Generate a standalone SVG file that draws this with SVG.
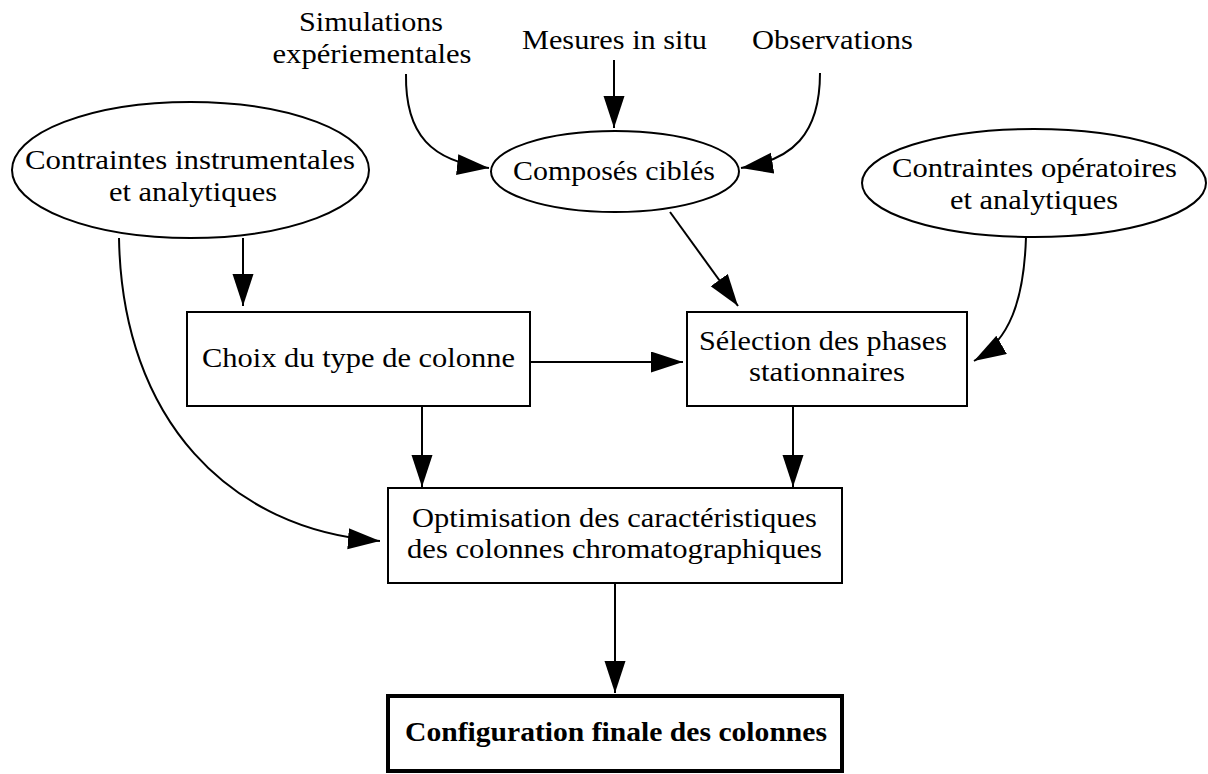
<svg xmlns="http://www.w3.org/2000/svg" width="1208" height="774" viewBox="0 0 1208 774">
<style>
text{font-family:"Liberation Serif","DejaVu Serif",serif;font-size:27.5px;fill:#000;text-anchor:middle}
.b{font-weight:bold}
.node{fill:#fff;stroke:#000;stroke-width:2}
.final{fill:#fff;stroke:#000;stroke-width:4}
.edge{fill:none;stroke:#000;stroke-width:2;marker-end:url(#ah)}
</style>
<defs>
<marker id="ah" markerUnits="userSpaceOnUse" markerWidth="34" markerHeight="24" refX="32" refY="10.5" orient="auto">
<path d="M0,0 L32,10.5 L0,21 z" fill="#000"/>
</marker>
</defs>
<rect width="1208" height="774" fill="#fff"/>
<g id="connectors">
<path class="edge" d="M406,74 C405,135 432,162 489,168"/>
<path class="edge" d="M614,60 L614,128"/>
<path class="edge" d="M820,73 C820,135 792,160 741,168"/>
<path class="edge" d="M243,238 L243,306"/>
<path class="edge" d="M119,238 C122,420 230,530 380,541"/>
<path class="edge" d="M670,212 L738,306"/>
<path class="edge" d="M1026,237 C1024,300 1010,340 974,361"/>
<path class="edge" d="M530,362 L683,362"/>
<path class="edge" d="M422,406 L422,487"/>
<path class="edge" d="M793,406 L793,487"/>
<path class="edge" d="M615,583 L615,693"/>
</g>
<g id="simulations">
<text x="371" y="31" textLength="144" lengthAdjust="spacingAndGlyphs">Simulations</text>
<text x="372" y="63" textLength="199" lengthAdjust="spacingAndGlyphs">expériementales</text>
</g>
<g id="mesures">
<text x="614.5" y="49" textLength="185" lengthAdjust="spacingAndGlyphs">Mesures in situ</text>
</g>
<g id="observations">
<text x="832.5" y="49" textLength="161" lengthAdjust="spacingAndGlyphs">Observations</text>
</g>
<g id="contraintes-instrumentales">
<ellipse class="node" cx="190.5" cy="170" rx="178.5" ry="68"/>
<text x="190" y="169" textLength="330" lengthAdjust="spacingAndGlyphs">Contraintes instrumentales</text>
<text x="193" y="201" textLength="168" lengthAdjust="spacingAndGlyphs">et analytiques</text>
</g>
<g id="composes">
<ellipse class="node" cx="615" cy="171.5" rx="124" ry="40.5"/>
<text x="614" y="180" textLength="202" lengthAdjust="spacingAndGlyphs">Composés ciblés</text>
</g>
<g id="contraintes-operatoires">
<ellipse class="node" cx="1034" cy="183" rx="172" ry="54"/>
<text x="1034.5" y="177" textLength="285" lengthAdjust="spacingAndGlyphs">Contraintes opératoires</text>
<text x="1034" y="209" textLength="168" lengthAdjust="spacingAndGlyphs">et analytiques</text>
</g>
<g id="choix">
<rect class="node" x="187" y="312" width="343" height="94"/>
<text x="358.5" y="367" textLength="313" lengthAdjust="spacingAndGlyphs">Choix du type de colonne</text>
</g>
<g id="selection">
<rect class="node" x="687" y="312" width="280" height="94"/>
<text x="823" y="350" textLength="248" lengthAdjust="spacingAndGlyphs">Sélection des phases</text>
<text x="827" y="381" textLength="156" lengthAdjust="spacingAndGlyphs">stationnaires</text>
</g>
<g id="optimisation">
<rect class="node" x="388" y="488" width="454" height="95"/>
<text x="614.5" y="527" textLength="405" lengthAdjust="spacingAndGlyphs">Optimisation des caractéristiques</text>
<text x="614.5" y="558" textLength="415" lengthAdjust="spacingAndGlyphs">des colonnes chromatographiques</text>
</g>
<g id="configuration">
<rect class="final" x="388" y="696" width="454" height="75"/>
<text class="b" x="616" y="741" textLength="422" lengthAdjust="spacingAndGlyphs">Configuration finale des colonnes</text>
</g>
</svg>
